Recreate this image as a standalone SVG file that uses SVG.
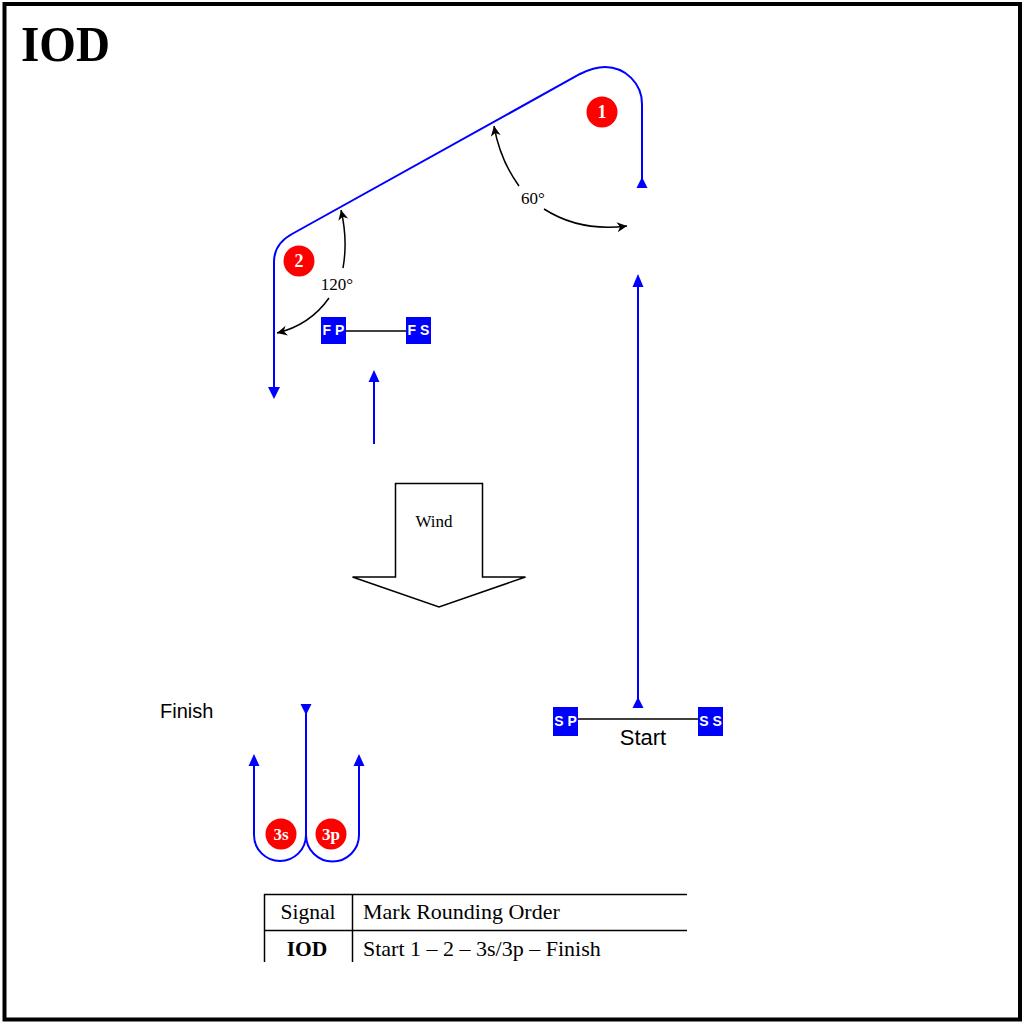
<svg xmlns="http://www.w3.org/2000/svg" width="1024" height="1024" viewBox="0 0 1024 1024">
<style>
.serif{font-family:"Liberation Serif","Times New Roman",serif;fill:#000}
.sans{font-family:"Liberation Sans",Arial,sans-serif;fill:#000}
.course{fill:none;stroke:#0000ff;stroke-width:2}
.head{fill:#0000ff;stroke:none}
.mark circle{fill:#ff0000}
.mark text{font-family:"Liberation Serif","Times New Roman",serif;font-weight:bold;fill:#fff;text-anchor:middle}
.flag rect{fill:#0000ff}
.flag text{font-family:"Liberation Sans",Arial,sans-serif;font-weight:bold;fill:#fff;font-size:14px;text-anchor:middle}
.angle{fill:none;stroke:#000;stroke-width:1.5}
.line{stroke:#000;stroke-width:1.5}
</style>
<defs>
<marker id="open" viewBox="0 0 12 12" refX="11" refY="6" markerWidth="12" markerHeight="12" markerUnits="userSpaceOnUse" orient="auto">
<path d="M1,1 L11,6 L1,11 L4,6 Z" fill="#000"/>
</marker>
</defs>
<rect x="0" y="0" width="1024" height="1024" fill="#fff"/>
<rect x="4.5" y="4" width="1015.5" height="1015.5" fill="none" stroke="#000" stroke-width="4"/>
<text class="serif" x="21" y="61" font-size="50" font-weight="bold" textLength="89" lengthAdjust="spacingAndGlyphs">IOD</text>

<g id="connectors">
<path class="course" d="M642,186 V104 A37,37 0 0 0 605,67 C596,67 588,70 580,74 L292,234 C281,240 274,248 274,262 V390"/>
<polygon class="head" points="642,177 647.5,188 636.5,188"/>
<polygon class="head" points="274,399 268,387 280,387"/>
<path class="course" d="M638,706 V284"/>
<polygon class="head" points="638,274 643.5,287 632.5,287"/>
<polygon class="head" points="638,697 643.5,708 632.5,708"/>
<path class="course" d="M374,444 V380"/>
<polygon class="head" points="374,370 379.5,382 368.5,382"/>
<path class="course" d="M306,713 V835 A26.5,26.5 0 0 0 359,835 V764"/>
<path class="course" d="M306,835 A26,26 0 0 1 254,835 V764"/>
<polygon class="head" points="306,715 300.5,704 311.5,704"/>
<polygon class="head" points="254,754 259.5,766 248.5,766"/>
<polygon class="head" points="359,754 364.5,766 353.5,766"/>
<path class="angle" d="M519,186 Q500,160 494,126" marker-end="url(#open)"/>
<path class="angle" d="M544,209 Q580,232 627,226" marker-end="url(#open)"/>
<path class="angle" d="M343,268 Q348,240 341,210" marker-end="url(#open)"/>
<path class="angle" d="M329,298 Q310,325 277,333" marker-end="url(#open)"/>
<line class="line" x1="346" y1="331" x2="406" y2="331"/>
<line class="line" x1="578" y1="719" x2="698" y2="719"/>
</g>

<text class="serif" x="533" y="204" font-size="17" text-anchor="middle">60°</text>
<text class="serif" x="337" y="290" font-size="17" text-anchor="middle">120°</text>

<g id="mark1" class="mark"><circle cx="602" cy="112" r="15.5"/><text x="602" y="118" font-size="18">1</text></g>
<g id="mark2" class="mark"><circle cx="299" cy="261" r="15.5"/><text x="299" y="267" font-size="18">2</text></g>
<g id="mark3s" class="mark"><circle cx="281" cy="834" r="15.5"/><text x="281" y="840" font-size="17">3s</text></g>
<g id="mark3p" class="mark"><circle cx="331" cy="834" r="15.5"/><text x="331" y="840" font-size="17">3p</text></g>

<g id="flagFP" class="flag"><rect x="321" y="317" width="25" height="27"/><text x="333.5" y="335">F P</text></g>
<g id="flagFS" class="flag"><rect x="406" y="317" width="25" height="27"/><text x="418.5" y="335">F S</text></g>
<g id="flagSP" class="flag"><rect x="553" y="707" width="25" height="29"/><text x="565.5" y="726">S P</text></g>
<g id="flagSS" class="flag"><rect x="698" y="707" width="25" height="29"/><text x="710.5" y="726">S S</text></g>

<g id="wind">
<path d="M395.5,483.5 H482.5 V577 H525.5 L439,607 L352.5,577 H395.5 Z" fill="#fff" stroke="#000" stroke-width="1.5"/>
<text class="serif" x="434" y="527" font-size="17" text-anchor="middle">Wind</text>
</g>

<text class="sans" x="160" y="718" font-size="20">Finish</text>
<text class="sans" x="643" y="745" font-size="22" text-anchor="middle">Start</text>

<g id="table">
<line class="line" x1="264" y1="894.5" x2="687" y2="894.5" stroke-width="1.2"/>
<line class="line" x1="264" y1="930.5" x2="687" y2="930.5" stroke-width="1.2"/>
<line class="line" x1="264.5" y1="894" x2="264.5" y2="962" stroke-width="1.2"/>
<line class="line" x1="352.5" y1="894" x2="352.5" y2="962" stroke-width="1.2"/>
<text class="serif" x="308" y="919" font-size="21.5" text-anchor="middle">Signal</text>
<text class="serif" x="363" y="919" font-size="22">Mark Rounding Order</text>
<text class="serif" x="307" y="956" font-size="21.5" font-weight="bold" text-anchor="middle">IOD</text>
<text class="serif" x="363" y="956" font-size="22">Start 1 – 2 – 3s/3p – Finish</text>
</g>
</svg>
